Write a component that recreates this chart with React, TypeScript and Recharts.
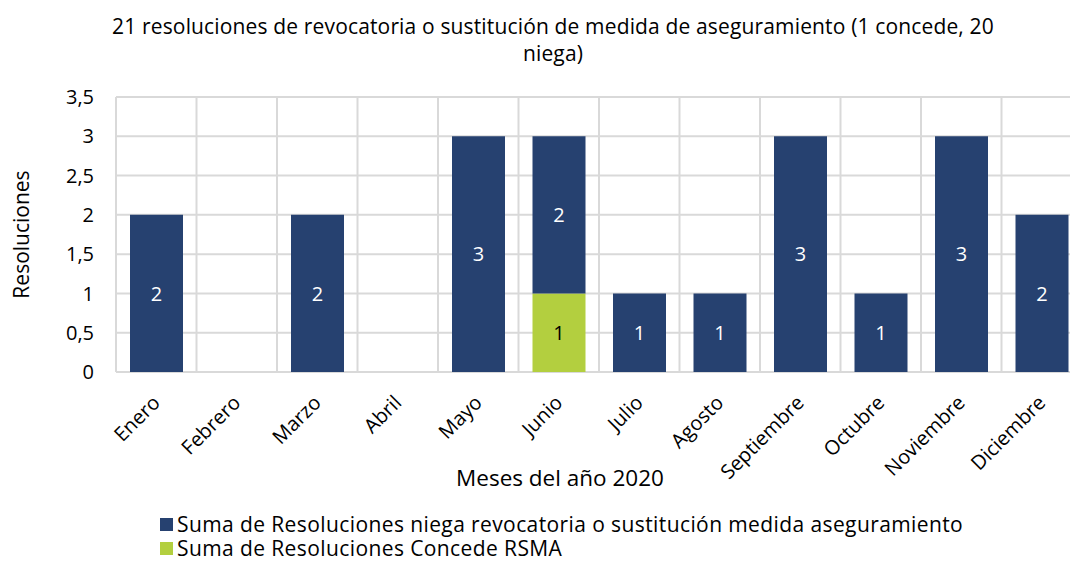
import { BarChart, Bar, XAxis, YAxis, CartesianGrid, LabelList } from "recharts";

const months = [
  "Enero", "Febrero", "Marzo", "Abril", "Mayo", "Junio",
  "Julio", "Agosto", "Septiembre", "Octubre", "Noviembre", "Diciembre",
];
const niega = [2, 0, 2, 0, 3, 2, 1, 1, 3, 1, 3, 2];
const concede = [0, 0, 0, 0, 0, 1, 0, 0, 0, 0, 0, 0];
const yTicks = [0, 0.5, 1, 1.5, 2, 2.5, 3, 3.5];

const NAVY = "#264170";
const GREEN = "#b3cf3f";
const FONT = "'Open Sans', sans-serif";

const data = months.map((m, i) => ({ month: m, niega: niega[i], concede: concede[i] }));

const fmt = (v: number) => String(v).replace(".", ",");

function MonthTick({ x, y, payload }: any) {
  const tx = x + 5;
  const ty = y + 24;
  return (
    <text x={tx} y={ty} textAnchor="end" fontSize={20} fill="#000" fontFamily={FONT}
      transform={`rotate(-45, ${tx}, ${ty})`}>
      {payload.value}
    </text>
  );
}

const hideZero = (v: any) => (v ? v : "");

export default function App() {
  return (
    <div style={{ position: "absolute", left: 0, top: 0, width: 1070, height: 565, overflow: "hidden", background: "#fff", fontFamily: FONT }}>
      <div style={{ position: "absolute", left: 0, width: 1106, top: 13, textAlign: "center", fontSize: 21, letterSpacing: 0.15, lineHeight: "27px", color: "#000" }}>
        21 resoluciones de revocatoria o sustitución de medida de aseguramiento (1 concede, 20
        <br />
        niega)
      </div>
      <BarChart width={1090} height={565} data={data}
        margin={{ top: 97, right: 8, bottom: 83, left: 56 }}>
        <CartesianGrid stroke="#d9d9d9" strokeWidth={2}
          verticalCoordinatesGenerator={({ offset }: any) =>
            months.map((_, i) => offset.left + (i * offset.width) / months.length).concat(offset.left + offset.width)}
        />
        <XAxis dataKey="month" height={110} axisLine={false} tickLine={false} interval={0}
          tick={<MonthTick />}
          label={{ value: "Meses del año 2020", position: "insideBottom", offset: -4, dx: -39, fontSize: 22.5, fill: "#000", fontFamily: FONT }} />
        <YAxis width={60} domain={[0, 3.5]} ticks={yTicks} axisLine={false} tickLine={false}
          tickFormatter={fmt} tick={{ fontSize: 20, fill: "#000", fontFamily: FONT }} tickMargin={16}
          label={{ value: "Resoluciones", angle: -90, position: "center", dx: -64, fontSize: 21, fill: "#000", fontFamily: FONT }} />
        <Bar dataKey="concede" stackId="a" fill={GREEN} barSize={53} isAnimationActive={false}>
          <LabelList dataKey="concede" position="center" formatter={hideZero} fill="#000" fontSize={20} fontFamily={FONT} />
        </Bar>
        <Bar dataKey="niega" stackId="a" fill={NAVY} barSize={53} isAnimationActive={false}>
          <LabelList dataKey="niega" position="center" formatter={hideZero} fill="#fff" fontSize={20} fontFamily={FONT} />
        </Bar>
      </BarChart>
      <div style={{ position: "absolute", left: 160, top: 512, fontSize: 21, letterSpacing: 0.4, lineHeight: "24px", color: "#000" }}>
        <div style={{ display: "flex", alignItems: "center" }}>
          <span style={{ width: 13, height: 13, background: NAVY, marginRight: 4, display: "inline-block" }} />
          Suma de Resoluciones niega revocatoria o sustitución medida aseguramiento
        </div>
        <div style={{ display: "flex", alignItems: "center" }}>
          <span style={{ width: 13, height: 13, background: GREEN, marginRight: 4, display: "inline-block" }} />
          Suma de Resoluciones Concede RSMA
        </div>
      </div>
    </div>
  );
}
